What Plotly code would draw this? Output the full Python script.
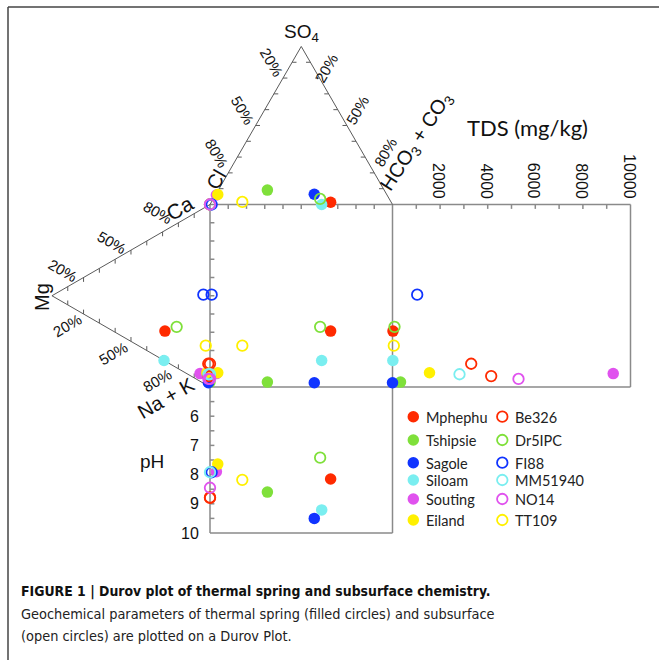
import plotly.graph_objects as go

# ---------------- data ----------------
series_names = ["Mphephu", "Tshipsie", "Sagole", "Siloam", "Souting", "Eiland",
                "Be326", "Dr5IPC", "FI88", "MM51940", "NO14", "TT109"]
series_colors = ["#FF2A00", "#7FE03A", "#1034FF", "#7AEEF0", "#E052EE", "#FFF000",
                 "#FF2A00", "#7FE03A", "#1034FF", "#7AEEF0", "#E052EE", "#FFF000"]
series_filled = [True] * 6 + [False] * 6

sample_series = ["Mphephu", "Tshipsie", "Sagole", "Siloam", "Souting", "Eiland",
                 "Be326", "Be326", "Dr5IPC", "FI88", "MM51940", "NO14", "TT109"]
# anions (% meq)
cl_pct   = [33.2, 64.0, 39.6, 38.8, 93.5, 92.6, 100.0, 100.0, 37.9, 99.1, 100.0, 100.0, 81.5]
so4_pct  = [1.4, 9.1, 6.5, 0.0, 6.0, 6.3, 0.0, 0.0, 3.5, 0.0, 0.0, 0.0, 1.6]
hco3_pct = [65.4, 26.9, 53.9, 61.2, 0.5, 1.1, 0.0, 0.0, 58.6, 0.9, 0.0, 0.0, 16.9]
# cations (% meq)
ca_pct   = [16.4, 2.7, 1.8, 0.0, 4.2, 6.8, 12.2, 5.5, 22.4, 48.5, 6.5, 3.9, 21.3]
mg_pct   = [28.5, 0.0, 1.0, 29.1, 6.3, 2.0, 1.1, 1.0, 21.1, 4.2, 1.0, 1.0, 2.7]
nak_pct  = [55.1, 97.3, 97.2, 70.9, 89.5, 91.2, 86.7, 93.5, 56.5, 47.3, 92.5, 95.1, 76.0]
tds_mgkg = [20, 336, 0, 15, 9273, 1555, 3307, 4147, 84, 1038, 2815, 5294, 55]
ph_vals  = [8.15, 8.6, 9.5, 9.21, 7.9, 7.64, 8.78, 8.8, 7.42, 7.92, 7.92, 8.45, 8.18]

tds_ticks = [2000, 4000, 6000, 8000, 10000]
ph_ticks = [6, 7, 8, 9, 10]

# ---------------- geometry ----------------
W, H = 659, 660
S = 1.825            # px per unit
X0, Y0 = 210.0, 387.0
def dx(px): return (px - X0) / S
def dy(py): return (Y0 - py) / S
H3 = 100 * 3 ** 0.5 / 2
TDS_MAX = 10000
TDS_W = (630 - 392) / S
PH_MIN, PH_MAX = 5, 10
PH_H = (533 - 387) / S
def tds_x(v): return 100 + v / TDS_MAX * TDS_W
def ph_y(v): return -(v - PH_MIN) / (PH_MAX - PH_MIN) * PH_H

fig = go.Figure()

# frame
frame_col = "#444444"
fig.add_shape(type="line", x0=dx(8), x1=dx(659), y0=dy(7), y1=dy(7), line=dict(color=frame_col, width=1.5))
fig.add_shape(type="line", x0=dx(8), x1=dx(8), y0=dy(7), y1=dy(660), line=dict(color=frame_col, width=1.5))

# boxes
box_col = "#8a8a8a"
bx, by = [], []
def seg(xs, ys, X, Y):
    X.extend(xs + [None]); Y.extend(ys + [None])
seg([0, 0], [100, -PH_H], bx, by)
seg([100, 100], [100, -PH_H], bx, by)
seg([0, tds_x(TDS_MAX)], [100, 100], bx, by)
seg([0, tds_x(TDS_MAX)], [0, 0], bx, by)
seg([tds_x(TDS_MAX), tds_x(TDS_MAX)], [100, 0], bx, by)
seg([0, 100], [-PH_H, -PH_H], bx, by)
L = 2.4
for k in range(1, 10):
    seg([10 * k, 10 * k], [100, 100 - L], bx, by)
    seg([0, L], [10 * k, 10 * k], bx, by)
    seg([tds_x(1000 * k)] * 2, [100, 100 - L], bx, by)
    seg([0, L], [ph_y(5 + 0.5 * k)] * 2, bx, by)
fig.add_trace(go.Scatter(x=bx, y=by, mode="lines", line=dict(color=box_col, width=1.5),
                         hoverinfo="skip", showlegend=False))

# triangles
tx, ty = [], []
seg([0, 50, 100], [100, 100 + H3, 100], tx, ty)
seg([0, -H3, 0], [100, 50, 0], tx, ty)
for k in range(1, 10):
    f = k / 10
    px_, py_ = 50 * f, 100 + H3 * f
    seg([px_, px_ + L], [py_, py_], tx, ty)
    px_, py_ = 100 - 50 * f, 100 + H3 * f
    seg([px_, px_ - L], [py_, py_], tx, ty)
    px_, py_ = -H3 * f, 100 - 50 * f
    seg([px_, px_], [py_, py_ - L], tx, ty)
    px_, py_ = -H3 * f, 50 * f
    seg([px_, px_], [py_, py_ + L], tx, ty)
fig.add_trace(go.Scatter(x=tx, y=ty, mode="lines", line=dict(color="#5a5a5a", width=1),
                         hoverinfo="skip", showlegend=False))

# data points
for name, col, filled in zip(series_names, series_colors, series_filled):
    xs, ys = [], []
    for i, s in enumerate(sample_series):
        if s != name:
            continue
        ax = hco3_pct[i] + 0.5 * so4_pct[i]
        ay = 100 + H3 * so4_pct[i] / 100
        cx = -H3 * mg_pct[i] / 100
        cy = ca_pct[i] + 0.5 * mg_pct[i]
        xs += [ax, cx, ax, tds_x(tds_mgkg[i]), ax]
        ys += [ay, cy, cy, cy, ph_y(ph_vals[i])]
    if filled:
        mk = dict(symbol="circle", size=11.5, color=col, line=dict(width=0))
    else:
        mk = dict(symbol="circle-open", size=10.5, color=col, line=dict(width=1.8, color=col))
    fig.add_trace(go.Scatter(x=xs, y=ys, mode="markers", marker=mk, name=name, showlegend=False))

# legend (drawn manually, two columns)
leg_rows_px = [416.7, 440, 462.7, 480, 499, 520]
leg_col_px = [413.3, 502.3]
annotations = []
for j, (name, col, filled) in enumerate(zip(series_names, series_colors, series_filled)):
    c, r = (0 if filled else 1), j % 6
    if filled:
        mk = dict(symbol="circle", size=11.5, color=col)
    else:
        mk = dict(symbol="circle-open", size=10.5, color=col, line=dict(width=1.8, color=col))
    fig.add_trace(go.Scatter(x=[dx(leg_col_px[c])], y=[dy(leg_rows_px[r])], mode="markers",
                             marker=mk, hoverinfo="skip", showlegend=False))
    annotations.append(dict(x=dx(leg_col_px[c] + 11), y=dy(leg_rows_px[r] + 0.5), text=name,
                            xanchor="left", yanchor="middle", showarrow=False,
                            font=dict(family="Lato, Carlito, sans-serif", size=14.5, color="#222")))

def ann(text, px, py, angle=0, size=16, family="Liberation Sans, Arial, sans-serif", xa="center", ya="middle", color="#111"):
    annotations.append(dict(x=dx(px), y=dy(py), text=text, textangle=angle, showarrow=False,
                            xanchor=xa, yanchor=ya, font=dict(family=family, size=size, color=color)))

# axis labels
ann("SO<sub>4</sub>", 301, 33, 0, 19)
ann("Cl", 216, 180, -60, 20)
ann("HCO<sub>3</sub> + CO<sub>3</sub>", 416, 142, -57, 20)
ann("Ca", 179, 208, -30, 21)
ann("Mg", 42, 297, -90, 20)
ann("Na + K", 166, 398, -30, 20)
ann("TDS (mg/kg)", 527, 127, 0, 22, family="Lato, Carlito, sans-serif")
ann("pH", 152, 461, 0, 19)

# percent labels
for txt, px, py in [("20%", 272, 62), ("50%", 243, 110), ("80%", 217, 153)]:
    ann(txt, px, py, 60, 15)
for txt, px, py in [("20%", 326, 68), ("50%", 357, 110), ("80%", 385, 152)]:
    ann(txt, px, py, -60, 15)
for txt, px, py in [("80%", 158, 212), ("50%", 112, 242), ("20%", 63, 270)]:
    ann(txt, px, py, 30, 15)
for txt, px, py in [("20%", 67, 325), ("50%", 113, 353), ("80%", 157, 380)]:
    ann(txt, px, py, -30, 15)

# TDS tick labels
for v in tds_ticks:
    annotations.append(dict(x=tds_x(v) - 0.6, y=dy(201), text=str(v), textangle=90, showarrow=False,
                            xanchor="center", yanchor="bottom",
                            font=dict(family="Liberation Sans, Arial, sans-serif", size=16, color="#111")))
# pH tick labels
for v in ph_ticks:
    annotations.append(dict(x=dx(201), y=ph_y(v), text=str(v), showarrow=False,
                            xanchor="right", yanchor="middle",
                            font=dict(family="Liberation Sans, Arial, sans-serif", size=16, color="#111")))

# caption
cap_font = "Liberation Sans Narrow, DejaVu Sans Condensed, Arial Narrow, sans-serif"
annotations.append(dict(x=dx(19), y=dy(591.5), text="<b>FIGURE 1 | Durov plot of thermal spring and subsurface chemistry.</b>",
                        xanchor="left", yanchor="middle", showarrow=False,
                        font=dict(family=cap_font, size=13.9, color="#111")))
annotations.append(dict(x=dx(19), y=dy(613.5), text="Geochemical parameters of thermal spring (filled circles) and subsurface",
                        xanchor="left", yanchor="middle", showarrow=False,
                        font=dict(family=cap_font, size=14.4, color="#222")))
annotations.append(dict(x=dx(19), y=dy(635.5), text="(open circles) are plotted on a Durov Plot.",
                        xanchor="left", yanchor="middle", showarrow=False,
                        font=dict(family=cap_font, size=14.4, color="#222")))

fig.update_layout(
    width=W, height=H, margin=dict(l=0, r=0, t=0, b=0),
    paper_bgcolor="white", plot_bgcolor="white",
    xaxis=dict(range=[dx(0), dx(W)], visible=False, fixedrange=True),
    yaxis=dict(range=[dy(H), dy(0)], visible=False, fixedrange=True),
    annotations=annotations, showlegend=False,
)
fig.write_html("out.html")
